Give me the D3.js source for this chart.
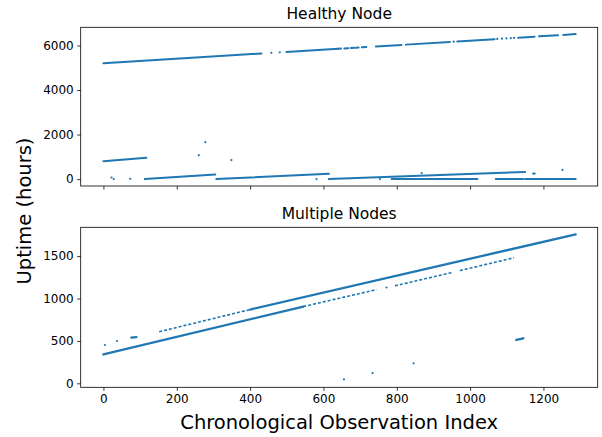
<!DOCTYPE html>
<html>
<head>
<meta charset="utf-8">
<script src="https://cdn.jsdelivr.net/npm/d3@7"></script>
<style>
  html, body { margin: 0; padding: 0; background: #fff; }
  svg { display: block; font-family: "DejaVu Sans", sans-serif; }
</style>
</head>
<body>
<svg id="chart" width="602" height="437"></svg>
<script>
// ---------- data ----------
const xTicks = [0, 200, 400, 600, 800, 1000, 1200];
const healthyTicks = [0, 2000, 4000, 6000];
const multiTicks = [0, 500, 1000, 1500];

// dense runs of points: [xStart, yStart, xEnd, yEnd]
const healthyDense = [
  [0, 5200, 431, 5640], [499, 5710, 640, 5850],
  [640, 5852, 648, 5860], [657, 5868, 668, 5880], [675, 5886, 686, 5898],
  [690, 5902, 696, 5908], [705, 5917, 717, 5928],
  [743, 5955, 813, 6025], [825, 6038, 945, 6160], [965, 6180, 1067, 6283],
  [1131, 6350, 1176, 6395], [1188, 6410, 1240, 6460], [1254, 6475, 1288, 6512],
  [0, 800, 117, 958],
  [113, 0, 305, 206], [308, 0, 615, 240], [615, 0, 1150, 320],
  [786, 0, 1020, 5], [1070, 0, 1145, 0], [1150, 0, 1288, 0]
];
const healthySparse = [];
const healthyPoints = [
  [458, 5668], [481, 5692], [955, 6170], [1074, 6292], [1087, 6305],
  [1099, 6318], [1111, 6330], [1120, 6339],
  [22, 72], [28, 0], [73, 10], [260, 1076], [278, 1659], [349, 852],
  [581, 0], [868, 270], [1172, 250], [1176, 250], [1252, 410], [754, 0], [930, 0]
];

const multiDense = [
  [0, 340, 545, 905], [400, 870, 1288, 1757],
  [76, 540, 90, 545], [1126, 511, 1145, 531]
];
const multiSparse = [
  [152, 608, 400, 870],
  [545, 905, 745, 1105], [795, 1150, 954, 1310], [972, 1330, 1120, 1481]
];
const multiPoints = [
  [4, 452], [37, 499], [772, 1130], [656, 47], [734, 121], [846, 236]
];

const xDomain = [-62, 1348];
const healthyDomain = [-310, 6816];
const multiDomain = [-47, 1840];

// ---------- layout ----------
const svg = d3.select("#chart");
const left = 80.7, right = 597.7;
const panels = [
  { title: "Healthy Node", top: 27.3, bottom: 186, domain: healthyDomain, ticks: healthyTicks,
    dense: healthyDense, sparse: healthySparse, points: healthyPoints, xLabels: false, lw: 2.0 },
  { title: "Multiple Nodes", top: 227.3, bottom: 387.3, domain: multiDomain, ticks: multiTicks,
    dense: multiDense, sparse: multiSparse, points: multiPoints, xLabels: true, lw: 2.3 }
];
const color = "#1f77b4";
const x = d3.scaleLinear().domain(xDomain).range([left, right]);

panels.forEach(p => {
  const y = d3.scaleLinear().domain(p.domain).range([p.bottom, p.top]);
  const g = svg.append("g");

  const clipId = "clip" + Math.round(p.top);
  svg.append("clipPath").attr("id", clipId).append("rect")
    .attr("x", left).attr("y", p.top).attr("width", right - left).attr("height", p.bottom - p.top);
  const marks = g.append("g").attr("clip-path", `url(#${clipId})`);

  marks.selectAll("line.dense").data(p.dense).join("line").attr("class", "dense")
    .attr("x1", d => x(d[0])).attr("y1", d => y(d[1]))
    .attr("x2", d => x(d[2])).attr("y2", d => y(d[3]))
    .attr("stroke", color).attr("stroke-width", p.lw).attr("stroke-linecap", "round");

  marks.selectAll("line.sparse").data(p.sparse).join("line").attr("class", "sparse")
    .attr("x1", d => x(d[0])).attr("y1", d => y(d[1]))
    .attr("x2", d => x(d[2])).attr("y2", d => y(d[3]))
    .attr("stroke", color).attr("stroke-width", 1.6).attr("stroke-dasharray", "3,2");

  marks.selectAll("circle").data(p.points).join("circle")
    .attr("cx", d => x(d[0])).attr("cy", d => y(d[1])).attr("r", 1.1).attr("fill", color);

  // axes
  const ya = d3.axisLeft(y).tickValues(p.ticks).tickSize(3.5).tickPadding(3.5).tickFormat(d3.format("d"));
  const yg = g.append("g").attr("transform", `translate(${left},0)`).call(ya);
  const xa = d3.axisBottom(x).tickValues(xTicks).tickSize(3.5).tickPadding(3.5)
    .tickFormat(p.xLabels ? d3.format("d") : () => "");
  const xg = g.append("g").attr("transform", `translate(0,${p.bottom})`).call(xa);
  [yg, xg].forEach(a => {
    a.select(".domain").remove();
    a.selectAll(".tick line").attr("stroke", "#000").attr("stroke-width", 0.8);
    a.selectAll(".tick text").attr("fill", "#000").style("font-size", "12px")
      .style("font-family", "DejaVu Sans, sans-serif");
  });
  xg.selectAll(".tick text").attr("dy", "0.71em").attr("y", 7.6);

  // frame
  g.append("rect").attr("x", left).attr("y", p.top).attr("width", right - left)
    .attr("height", p.bottom - p.top).attr("fill", "none").attr("stroke", "#000").attr("stroke-width", 0.8);

  g.append("text").attr("x", (left + right) / 2).attr("y", p.top - 8)
    .attr("text-anchor", "middle").style("font-size", "15.5px").attr("fill", "#000").text(p.title);
});

svg.append("text").attr("x", (left + right) / 2).attr("y", 429)
  .attr("text-anchor", "middle").style("font-size", "19.5px").attr("fill", "#000")
  .text("Chronological Observation Index");
svg.append("text").attr("transform", "translate(31,211) rotate(-90)")
  .attr("text-anchor", "middle").style("font-size", "19.5px").attr("fill", "#000")
  .text("Uptime (hours)");
</script>
</body>
</html>
